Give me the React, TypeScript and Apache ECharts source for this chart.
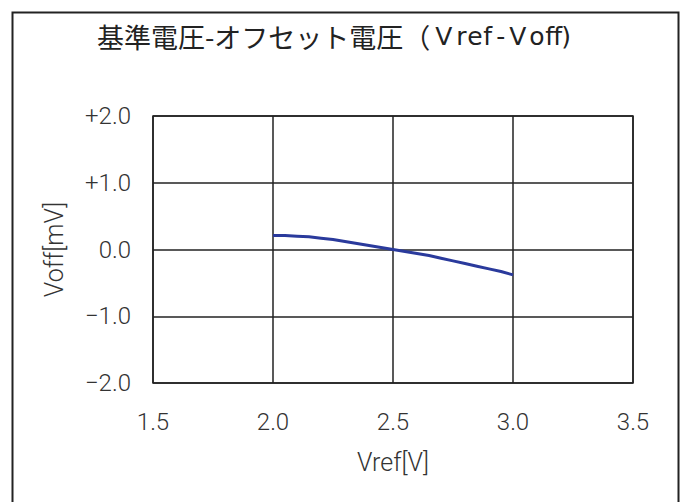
import React, { useEffect, useRef } from "react";
import * as echarts from "echarts";

const vref = [2.0, 2.05, 2.1, 2.15, 2.2, 2.25, 2.3, 2.35, 2.4, 2.45, 2.5, 2.55, 2.6, 2.65, 2.7, 2.75, 2.8, 2.85, 2.9, 2.95, 3.0];
const voff = [0.21, 0.21, 0.2, 0.19, 0.17, 0.15, 0.12, 0.09, 0.06, 0.03, 0.0, -0.03, -0.06, -0.09, -0.13, -0.17, -0.21, -0.25, -0.29, -0.33, -0.38];
const titleCJK = "基準電圧-オフセット電圧";
const titleParen = "（";
const titleLatin = ["V", "r", "e", "f", "-", "V", "o", "f", "f", ")"];
const latinWidths = [21, 11, 16, 13, 13, 20, 16, 8, 8, 10];
const xName = "Vref[V]";
const yName = "Voff[mV]";

const CJK = "'Noto Sans CJK JP', sans-serif";
const LAT = "Roboto, 'Noto Sans', sans-serif";

export default function App() {
  const ref = useRef<HTMLDivElement>(null);
  useEffect(() => {
    if (!ref.current) return;
    const chart = echarts.init(ref.current, undefined, { renderer: "svg" });
    const rich: Record<string, any> = {
      a: { fontFamily: CJK, fontSize: 27, fontWeight: "normal", color: "#222" },
      p: { fontFamily: CJK, fontSize: 27, fontWeight: "normal", color: "#222", width: 32 },
    };
    let latinText = "";
    titleLatin.forEach((ch, i) => {
      rich["l" + i] = {
        fontFamily: "'DejaVu Sans', sans-serif",
        fontSize: 25,
        fontWeight: "normal",
        color: "#222",
        width: latinWidths[i],
      };
      latinText += "{l" + i + "|" + ch + "}";
    });
    chart.setOption({
      animation: false,
      backgroundColor: "#ffffff",
      graphic: [
        {
          type: "rect",
          left: 10,
          top: 10,
          shape: { width: 666, height: 491 },
          style: { fill: "none", stroke: "#222", lineWidth: 2 },
          z: -1,
        },
      ],
      title: {
        text: "{a|" + titleCJK + "}{p|" + titleParen + "}" + latinText,
        left: 92,
        top: 18,
        textStyle: { rich },
      },
      grid: {
        left: 153,
        right: 51,
        top: 116,
        bottom: 119,
        show: true,
        borderColor: "#222",
        borderWidth: 1.5,
      },
      xAxis: {
        type: "value",
        min: 1.5,
        max: 3.5,
        interval: 0.5,
        name: xName,
        nameLocation: "middle",
        nameGap: 67,
        nameMoveOverlap: false,
        nameTextStyle: { fontFamily: LAT, fontSize: 25, fontWeight: 300, color: "#333" },
        axisLine: { show: false },
        axisTick: { show: false },
        splitLine: { show: true, lineStyle: { color: "#222", width: 1.5 } },
        axisLabel: {
          margin: 27,
          fontFamily: LAT,
          fontSize: 24,
          fontWeight: 300,
          color: "#333",
          formatter: (v: number) => v.toFixed(1),
        },
      },
      yAxis: {
        type: "value",
        min: -2,
        max: 2,
        interval: 1,
        name: yName,
        nameLocation: "middle",
        nameGap: 86,
        nameMoveOverlap: false,
        nameTextStyle: { fontFamily: LAT, fontSize: 25, fontWeight: 300, color: "#333" },
        axisLine: { show: false },
        axisTick: { show: false },
        splitLine: { show: true, lineStyle: { color: "#222", width: 1.5 } },
        axisLabel: {
          margin: 22,
          fontFamily: LAT,
          fontSize: 24,
          fontWeight: 300,
          color: "#333",
          formatter: (v: number) =>
            v > 0 ? "+" + v.toFixed(1) : v < 0 ? "−" + Math.abs(v).toFixed(1) : "0.0",
        },
      },
      series: [
        {
          type: "line",
          data: vref.map((x, i) => [x, voff[i]]),
          showSymbol: false,
          lineStyle: { color: "#2a3a9c", width: 3 },
        },
      ],
    });
    return () => chart.dispose();
  }, []);
  return (
    <div
      ref={ref}
      style={{ position: "fixed", left: 0, top: 0, width: 684, height: 502 }}
    />
  );
}
